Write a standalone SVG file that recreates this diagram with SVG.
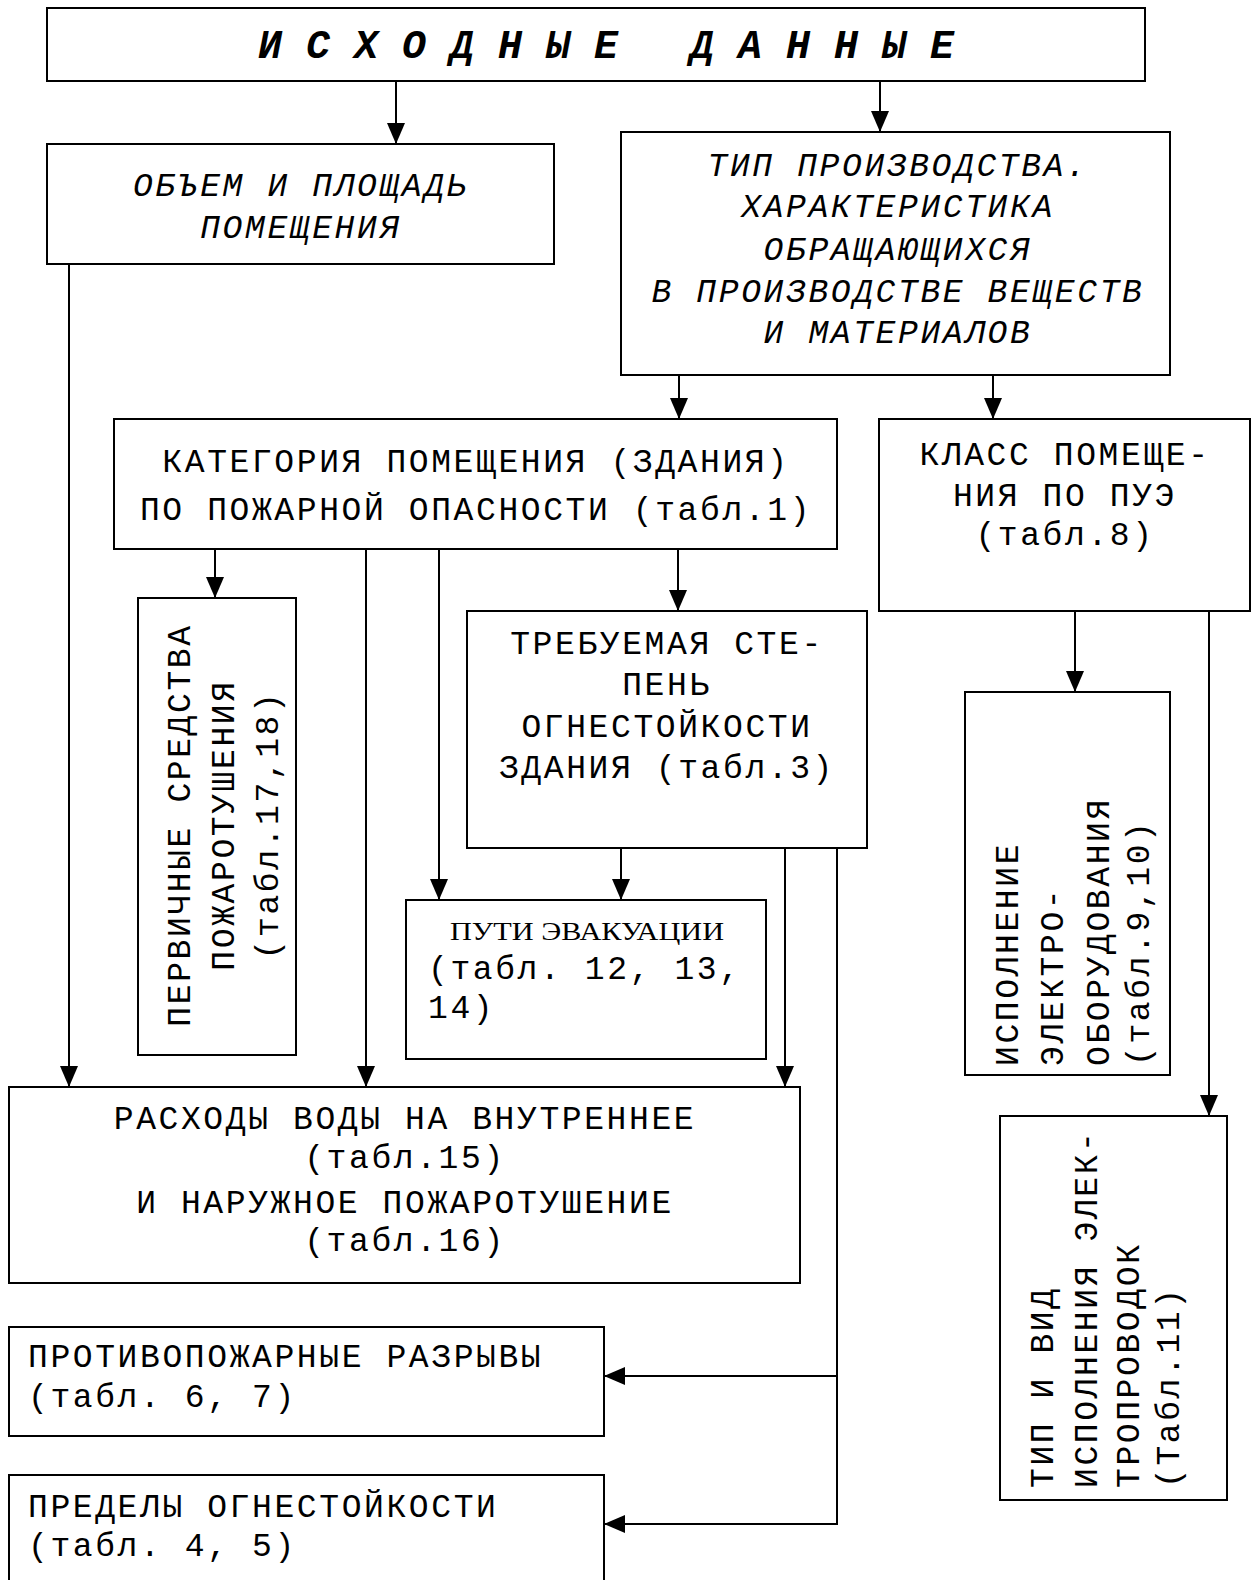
<svg xmlns="http://www.w3.org/2000/svg" width="1256" height="1580" viewBox="0 0 1256 1580">
<style>
.box{fill:#fff;stroke:#000;stroke-width:2}
.t{font-family:"Liberation Mono","Courier New",monospace;font-size:33px;letter-spacing:2.6px;fill:#000}
.c{text-anchor:middle}
.it{font-style:italic}
.title{font-family:"Liberation Mono","Courier New",monospace;font-size:40px;font-weight:bold;font-style:italic;text-anchor:middle;white-space:pre}
.serif{font-family:"Liberation Serif","Times New Roman",serif;font-size:26px;text-anchor:middle}
.ln{fill:none;stroke:#000;stroke-width:2}
</style>
<defs>
<marker id="ah" markerUnits="userSpaceOnUse" markerWidth="22" markerHeight="20" refX="21" refY="9" orient="auto">
<path d="M0,0 L21,9 L0,18 z" fill="#000"/>
</marker>
</defs>
<rect width="1256" height="1580" fill="#fff"/>

<g id="connectors">
<line class="ln" x1="396" y1="81" x2="396" y2="144" marker-end="url(#ah)"/>
<line class="ln" x1="880" y1="81" x2="880" y2="132" marker-end="url(#ah)"/>
<line class="ln" x1="679" y1="375" x2="679" y2="419" marker-end="url(#ah)"/>
<line class="ln" x1="993" y1="375" x2="993" y2="419" marker-end="url(#ah)"/>
<line class="ln" x1="69" y1="264" x2="69" y2="1087" marker-end="url(#ah)"/>
<line class="ln" x1="215" y1="549" x2="215" y2="598" marker-end="url(#ah)"/>
<line class="ln" x1="366" y1="549" x2="366" y2="1087" marker-end="url(#ah)"/>
<line class="ln" x1="439" y1="549" x2="439" y2="900" marker-end="url(#ah)"/>
<line class="ln" x1="678" y1="549" x2="678" y2="611" marker-end="url(#ah)"/>
<line class="ln" x1="621" y1="848" x2="621" y2="900" marker-end="url(#ah)"/>
<line class="ln" x1="785" y1="848" x2="785" y2="1087" marker-end="url(#ah)"/>
<path class="ln" d="M837,845 V1524"/>
<line class="ln" x1="837" y1="1376" x2="604" y2="1376" marker-end="url(#ah)"/>
<line class="ln" x1="838" y1="1524" x2="604" y2="1524" marker-end="url(#ah)"/>
<line class="ln" x1="1075" y1="611" x2="1075" y2="692" marker-end="url(#ah)"/>
<line class="ln" x1="1209" y1="611" x2="1209" y2="1116" marker-end="url(#ah)"/>
</g>

<g id="n-title">
<rect class="box" x="47" y="8" width="1098" height="73"/>
<text class="title" x="606" y="58" xml:space="preserve">И С Х О Д Н Ы Е   Д А Н Н Ы Е</text>
</g>

<g id="n-volume">
<rect class="box" x="47" y="144" width="507" height="120"/>
<text class="t c it" x="301" y="196">ОБЪЕМ И ПЛОЩАДЬ</text>
<text class="t c it" x="301" y="238">ПОМЕЩЕНИЯ</text>
</g>

<g id="n-type">
<rect class="box" x="621" y="132" width="549" height="243"/>
<text class="t c it" x="898" y="176">ТИП ПРОИЗВОДСТВА.</text>
<text class="t c it" x="898" y="217">ХАРАКТЕРИСТИКА</text>
<text class="t c it" x="898" y="260">ОБРАЩАЮЩИХСЯ</text>
<text class="t c it" x="898" y="302">В ПРОИЗВОДСТВЕ ВЕЩЕСТВ</text>
<text class="t c it" x="898" y="343">И МАТЕРИАЛОВ</text>
</g>

<g id="n-category">
<rect class="box" x="114" y="419" width="723" height="130"/>
<text class="t c" x="476" y="472">КАТЕГОРИЯ ПОМЕЩЕНИЯ (ЗДАНИЯ)</text>
<text class="t c" x="476" y="520">ПО ПОЖАРНОЙ ОПАСНОСТИ (табл.1)</text>
</g>

<g id="n-class">
<rect class="box" x="879" y="419" width="371" height="192"/>
<text class="t c" x="1065" y="465">КЛАСС ПОМЕЩЕ-</text>
<text class="t c" x="1065" y="506">НИЯ ПО ПУЭ</text>
<text class="t c" x="1065" y="545">(табл.8)</text>
</g>

<g id="n-primary">
<rect class="box" x="138" y="598" width="158" height="457"/>
<g transform="rotate(-90)">
<text class="t c" x="-825" y="190">ПЕРВИЧНЫЕ СРЕДСТВА</text>
<text class="t c" x="-825" y="234">ПОЖАРОТУШЕНИЯ</text>
<text class="t c" x="-825" y="278">(табл.17,18)</text>
</g>
</g>

<g id="n-degree">
<rect class="box" x="467" y="611" width="400" height="237"/>
<text class="t c" x="667" y="654">ТРЕБУЕМАЯ СТЕ-</text>
<text class="t c" x="667" y="695">ПЕНЬ</text>
<text class="t c" x="667" y="737">ОГНЕСТОЙКОСТИ</text>
<text class="t c" x="667" y="778">ЗДАНИЯ (табл.3)</text>
</g>

<g id="n-evac">
<rect class="box" x="406" y="900" width="360" height="159"/>
<text class="serif" x="587" y="940" textLength="274" lengthAdjust="spacingAndGlyphs">ПУТИ ЭВАКУАЦИИ</text>
<text class="t" x="428" y="979">(табл. 12, 13,</text>
<text class="t" x="428" y="1018">14)</text>
</g>

<g id="n-equip">
<rect class="box" x="965" y="692" width="205" height="383"/>
<g transform="rotate(-90)">
<text class="t" x="-1066" y="1018">ИСПОЛНЕНИЕ</text>
<text class="t" x="-1066" y="1063">ЭЛЕКТРО-</text>
<text class="t" x="-1066" y="1109">ОБОРУДОВАНИЯ</text>
<text class="t" x="-1066" y="1149">(табл.9,10)</text>
</g>
</g>

<g id="n-wiring">
<rect class="box" x="1000" y="1116" width="227" height="384"/>
<g transform="rotate(-90)">
<text class="t" x="-1488" y="1053">ТИП И ВИД</text>
<text class="t" x="-1488" y="1097">ИСПОЛНЕНИЯ ЭЛЕК-</text>
<text class="t" x="-1488" y="1139">ТРОПРОВОДОК</text>
<text class="t" x="-1488" y="1179">(Табл.11)</text>
</g>
</g>

<g id="n-water">
<rect class="box" x="9" y="1087" width="791" height="196"/>
<text class="t c" x="405" y="1129">РАСХОДЫ ВОДЫ НА ВНУТРЕННЕЕ</text>
<text class="t c" x="405" y="1168">(табл.15)</text>
<text class="t c" x="405" y="1213">И НАРУЖНОЕ ПОЖАРОТУШЕНИЕ</text>
<text class="t c" x="405" y="1251">(табл.16)</text>
</g>

<g id="n-gaps">
<rect class="box" x="9" y="1327" width="595" height="109"/>
<text class="t" x="28" y="1367">ПРОТИВОПОЖАРНЫЕ РАЗРЫВЫ</text>
<text class="t" x="28" y="1407">(табл. 6, 7)</text>
</g>

<g id="n-limits">
<rect class="box" x="9" y="1475" width="595" height="115"/>
<text class="t" x="28" y="1517">ПРЕДЕЛЫ ОГНЕСТОЙКОСТИ</text>
<text class="t" x="28" y="1556">(табл. 4, 5)</text>
</g>
</svg>
